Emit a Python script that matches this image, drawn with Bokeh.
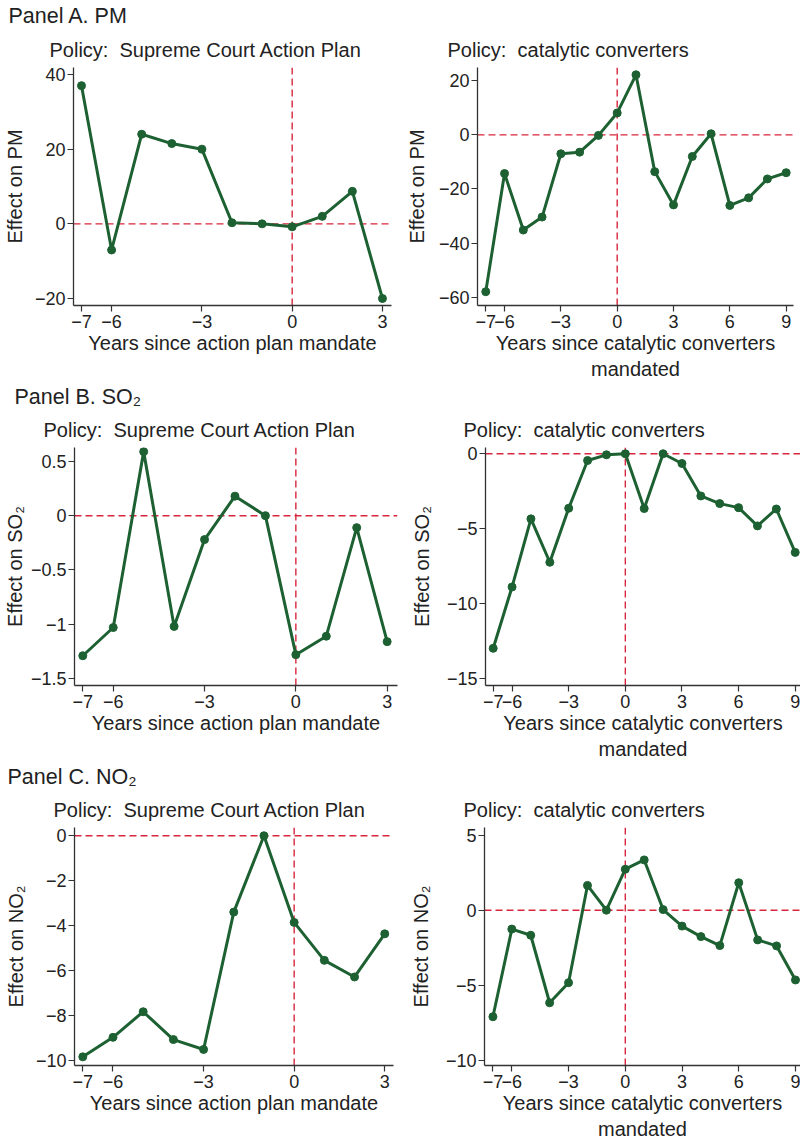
from bokeh.plotting import figure
from bokeh.models import Title, Span, FixedTicker, Range1d
from bokeh.layouts import column, row
from bokeh.embed import file_html
from bokeh.resources import INLINE

# ---------------- data ----------------
years_scap = [-7, -6, -5, -4, -3, -2, -1, 0, 1, 2, 3]
years_cat = [-7, -6, -5, -4, -3, -2, -1, 0, 1, 2, 3, 4, 5, 6, 7, 8, 9]

pm_scap = [37, -7, 24, 21.5, 20, 0.3, 0, -0.8, 2, 8.7, -20]
pm_cat = [-58, -14.3, -35.2, -30.4, -7, -6.4, -0.2, 8.1, 22.2, -13.6, -25.9,
          -8, 0.4, -26.1, -23.3, -16.3, -14]
so2_scap = [-1.29, -1.03, 0.59, -1.02, -0.22, 0.18, 0, -1.28, -1.11, -0.11, -1.16]
so2_cat = [-13.0, -8.9, -4.35, -7.25, -3.64, -0.45, -0.07, 0, -3.66, 0, -0.65,
           -2.82, -3.33, -3.6, -4.82, -3.69, -6.59]
no2_scap = [-9.85, -8.98, -7.84, -9.08, -9.52, -3.40, 0, -3.86, -5.55, -6.29, -4.37]
no2_cat = [-7.1, -1.26, -1.67, -6.17, -4.83, 1.65, 0, 2.73, 3.35, 0.04, -1.06,
           -1.76, -2.36, 1.83, -1.98, -2.38, -4.65]

xticks_scap = [-7, -6, -3, 0, 3]
xticks_cat = [-7, -6, -3, 0, 3, 6, 9]
yticks_pm_scap = [-20, 0, 20, 40]
yticks_pm_cat = [-60, -40, -20, 0, 20]
yticks_so2_scap = [-1.5, -1, -0.5, 0, 0.5]
yticks_so2_cat = [-15, -10, -5, 0]
yticks_no2_scap = [-10, -8, -6, -4, -2, 0]
yticks_no2_cat = [-10, -5, 0, 5]

panel_titles = ["Panel A. PM", "Panel B. SO\u2082", "Panel C. NO\u2082"]
policy_scap = "Policy:\u00a0 Supreme Court Action Plan"
policy_cat = "Policy:\u00a0 catalytic converters"
xlabel_scap = "Years since action plan mandate"
xlabel_cat = "Years since catalytic converters\nmandated"
ylabels = ["Effect on PM", "Effect on SO\u2082", "Effect on NO\u2082"]

GREEN = "#1d6132"
RED = "#d7263d"
TXT = "#222222"
FONT = "Liberation Sans"


def fmt(v):
    return f"{v:g}".replace("-", "\u2212")


def style_title(t, size, offset, standoff):
    t.text_font = FONT
    t.text_font_size = size
    t.text_font_style = "normal"
    t.text_color = TXT
    t.align = "left"
    t.offset = offset
    t.standoff = standoff


def make_panel(xs, ys, xticks, yticks, xr, yr, W, H, borders, subtitle, sub_off,
               xlabel, ylabel, ylab_standoff, ptitle=None, p_off=0, p_standoff=2):
    bl, br, bt, bb = borders
    p = figure(width=W, height=H, x_range=Range1d(*xr), y_range=Range1d(*yr),
               output_backend="svg", toolbar_location=None,
               min_border_left=bl, min_border_right=br,
               min_border_top=bt, min_border_bottom=bb)
    if ptitle is not None:
        p.title.text = ptitle
        style_title(p.title, "21.5px", p_off, p_standoff)
        sub = Title(text=subtitle)
        style_title(sub, "20px", sub_off, 14)
        p.add_layout(sub, "above")
    else:
        p.title.text = subtitle
        style_title(p.title, "20px", sub_off, 14)

    p.xgrid.visible = False
    p.ygrid.visible = False
    p.outline_line_color = None
    p.background_fill_color = "white"
    p.border_fill_color = "white"

    p.add_layout(Span(location=0, dimension="width", line_color=RED,
                      line_dash="7 4", line_width=1.4, level="underlay"))
    p.add_layout(Span(location=0, dimension="height", line_color=RED,
                      line_dash="7 4", line_width=1.4, level="underlay"))

    p.line(xs, ys, line_color=GREEN, line_width=3)
    p.scatter(xs, ys, size=8, color=GREEN)

    for ax, ticks in ((p.xaxis, xticks), (p.yaxis, yticks)):
        ax.ticker = FixedTicker(ticks=ticks, minor_ticks=[])
        ax.major_label_overrides = {float(t): fmt(t) for t in ticks}
        ax.axis_line_color = "#333333"
        ax.axis_line_width = 1.3
        ax.major_tick_line_color = "#333333"
        ax.major_tick_line_width = 1.2
        ax.major_tick_out = 6
        ax.major_tick_in = 0
        ax.minor_tick_line_color = None
        ax.major_label_text_font = FONT
        ax.major_label_text_font_size = "18px"
        ax.major_label_text_color = TXT
        ax.axis_label_text_font = FONT
        ax.axis_label_text_font_size = "20px"
        ax.axis_label_text_font_style = "normal"
        ax.axis_label_text_color = TXT
    p.xaxis.axis_label = xlabel
    p.yaxis.axis_label = ylabel
    p.xaxis.major_label_standoff = 3
    p.yaxis.major_label_standoff = 2
    p.xaxis.axis_label_standoff = 1
    p.yaxis.axis_label_standoff = ylab_standoff
    return p


WL, WR = 400, 400
HA, HB, HC = 382, 380, 380

pA1 = make_panel(years_scap, pm_scap, xticks_scap, yticks_pm_scap,
                 (-7.266, 3.30), (-21.87, 41.87), WL, HA, (73, 9, 67, 76),
                 policy_scap, -24, xlabel_scap, ylabels[0], 6,
                 panel_titles[0], -65, 3)
pA2 = make_panel(years_cat, pm_cat, xticks_cat, yticks_pm_cat,
                 (-7.44, 9.39), (-63.1, 24.9), WR, HA, (77, 7, 67, 76),
                 policy_cat, -30, xlabel_cat, ylabels[0], 8)
pB1 = make_panel(years_scap, so2_scap, xticks_scap, yticks_so2_scap,
                 (-7.273, 3.34), (-1.564, 0.628), WL, HB, (74, 3, 65, 76),
                 policy_scap, -31, xlabel_scap, ylabels[1], 2,
                 panel_titles[1], -60, 1)
pB2 = make_panel(years_cat, so2_cat, xticks_cat, yticks_so2_cat,
                 (-7.408, 9.28), (-15.486, 0.419), WR, HB, (85, 0, 65, 76),
                 policy_cat, -22, xlabel_cat, ylabels[1], 11)
pC1 = make_panel(years_scap, no2_scap, xticks_scap, yticks_no2_scap,
                 (-7.275, 3.29), (-10.235, 0.368), WL, HC, (74, 7, 65, 76),
                 policy_scap, -21, xlabel_scap, ylabels[2], 6,
                 panel_titles[2], -67, 1)
pC2 = make_panel(years_cat, no2_cat, xticks_cat, yticks_no2_cat,
                 (-7.445, 9.265), (-10.35, 5.51), WR, HC, (84, 0, 65, 76),
                 policy_cat, -21, xlabel_cat, ylabels[2], 11)

layout = column(row(pA1, pA2), row(pB1, pB2), row(pC1, pC2))

open("out.html", "w").write(file_html(layout, INLINE))
